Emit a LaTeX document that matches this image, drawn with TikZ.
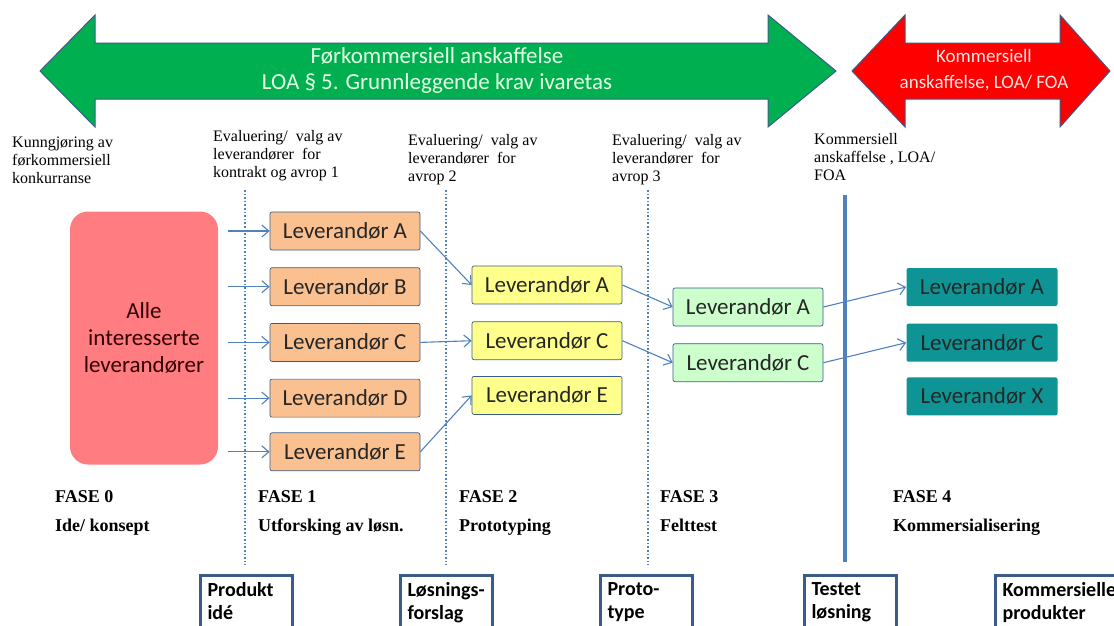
\documentclass[tikz,border=0pt]{standalone}
\usepackage{fontspec}
\setmainfont{Liberation Serif}
\setsansfont{Carlito}
\usetikzlibrary{arrows.meta,positioning}

\definecolor{arrowgreen}{HTML}{00B050}
\definecolor{arrowred}{HTML}{FF0000}
\definecolor{edgeblue}{HTML}{3B5C86}
\definecolor{linkblue}{HTML}{4F81BD}
\definecolor{pinkbox}{HTML}{FF7C80}
\definecolor{orangebox}{HTML}{FAC090}
\definecolor{yellowbox}{HTML}{FFFF8C}
\definecolor{mintbox}{HTML}{CCFFCC}
\definecolor{tealbox}{HTML}{0E9494}

\begin{document}
\begin{tikzpicture}[x=1pt,y=-1pt,
  lev/.style={draw=edgeblue,line width=0.7pt,rounded corners=2pt,minimum width=150pt,
    minimum height=38pt,inner sep=0pt,font=\sffamily\fontsize{23}{25}\selectfont,text=black!85},
  link/.style={draw=linkblue,line width=1.1pt,-{Straight Barb[length=7pt,width=12pt]}},
  phase/.style={anchor=base west,inner sep=0pt,font=\bfseries\fontsize{18}{20}\selectfont},
  note/.style={anchor=north west,inner sep=0pt,align=left,font=\fontsize{16}{18}\selectfont},
  outbox/.style={draw=edgeblue,line width=3pt,fill=white,anchor=north west,align=left,
    inner sep=7pt,text depth=40pt,font=\sffamily\bfseries\fontsize{20}{23}\selectfont},
  sep/.style={draw=linkblue,dotted,line width=1.6pt}]

  \useasboundingbox (0,0) rectangle (1114,625);
  \clip (0,0) rectangle (1114,625);

  % top arrows
  \draw[fill=arrowgreen,draw=edgeblue,line width=1pt] (40,71) -- (95,15) -- (95,43) -- (768,43)
    -- (768,15) -- (836,71) -- (768,127) -- (768,99) -- (95,99) -- (95,127) -- cycle;
  \node (pre) at (437,70) [align=center,text=green!10,font=\sffamily\fontsize{23}{26}\selectfont]
    {Førkommersiell anskaffelse\\LOA § 5. Grunnleggende krav ivaretas};
  \draw[fill=arrowred,draw=edgeblue,line width=1pt] (852,71) -- (905,15) -- (905,43) -- (1060,43)
    -- (1060,15) -- (1110,71) -- (1060,127) -- (1060,99) -- (905,99) -- (905,127) -- cycle;
  \node (com) at (984,70) [align=center,text=red!10,font=\sffamily\fontsize{19}{26}\selectfont]
    {Kommersiell\\anskaffelse, LOA/ FOA};

  % notes
  \node[note] (n0) at (12,137) {Kunngjøring av\\førkommersiell\\konkurranse};
  \node[note] (n1) at (213,130) {Evaluering/\ \ valg av\\leverandører\ \ for\\kontrakt og avrop 1};
  \node[note] (n2) at (408,134) {Evaluering/\ \ valg av\\leverandører\ \ for\\avrop 2};
  \node[note] (n3) at (612,134) {Evaluering/\ \ valg av\\leverandører\ \ for\\avrop 3};
  \node[note] (n4) at (814,133) {Kommersiell\\anskaffelse , LOA/\\FOA};

  % separators
  \draw[sep] (245,190) -- (245,565);
  \draw[sep] (446,190) -- (446,565);
  \draw[sep] (648,190) -- (648,565);
  \draw[draw=linkblue,line width=4pt] (845,195) -- (845,562);

  % all suppliers
  \node (all) at (144,338) [fill=pinkbox,rounded corners=18pt,minimum width=148pt,minimum height=253pt,
    align=center,text=black!80!red,font=\sffamily\fontsize{23}{27}\selectfont]
    {Alle\\interesserte\\leverandører};
  \coordinate (src) at ([xshift=10pt]all.east);

  % fase 1
  \node[lev,fill=orangebox] (oA) at (345,231) {Leverandør A};
  \node[lev,fill=orangebox] (oB) [below = 17pt of oA] {Leverandør B};
  \node[lev,fill=orangebox] (oC) [below = 17pt of oB] {Leverandør C};
  \node[lev,fill=orangebox] (oD) [below = 17pt of oC] {Leverandør D};
  \node[lev,fill=orangebox] (oE) [below = 15pt of oD] {Leverandør E};

  % fase 2
  \node[lev,fill=yellowbox] (yA) at (547,285) {Leverandør A};
  \node[lev,fill=yellowbox] (yC) [below = 17pt of yA] {Leverandør C};
  \node[lev,fill=yellowbox] (yE) [below = 16pt of yC] {Leverandør E};

  % fase 3
  \node[lev,fill=mintbox] (gA) at (748,307) {Leverandør A};
  \node[lev,fill=mintbox] (gC) [below = 17pt of gA] {Leverandør C};

  % fase 4
  \node[lev,draw=none,fill=tealbox,minimum width=151pt] (tA) at (982,287) {Leverandør A};
  \node[lev,draw=none,fill=tealbox,minimum width=151pt] (tC) [below = 17pt of tA] {Leverandør C};
  \node[lev,draw=none,fill=tealbox,minimum width=151pt] (tX) [below = 15pt of tC] {Leverandør X};

  \foreach \n in {oA,oB,oC,oD,oE}
    \draw[link] (src |- \n.west) -- (\n.west);
  \draw[link] (oA.east) -- (yA.west);
  \draw[link] (oC.east) -- (yC.west);
  \draw[link] (oE.east) -- (yE.west);
  \draw[link] (yA.east) -- (gA.west);
  \draw[link] (yC.east) -- (gC.west);
  \draw[link] (gA.east) -- (tA.west);
  \draw[link] (gC.east) -- (tC.west);

  % phases
  \node[phase] (f0) at (55,502) {FASE 0};
  \node[phase] (f0t) at (55,531) {Ide/ konsept};
  \node[phase] (f1) at (258,502) {FASE 1};
  \node[phase] (f1t) at (258,531) {Utforsking av løsn.};
  \node[phase] (f2) at (459,502) {FASE 2};
  \node[phase] (f2t) at (459,531) {Prototyping};
  \node[phase] (f3) at (660,502) {FASE 3};
  \node[phase] (f3t) at (660,531) {Felttest};
  \node[phase] (f4) at (893,502) {FASE 4};
  \node[phase] (f4t) at (893,531) {Kommersialisering};

  % results
  \node[outbox,text width=78pt] (r0) at (199,574) {Produkt\\idé};
  \node[outbox,text width=78pt] (r1) at (399,574) {Løsnings-\\forslag};
  \node[outbox,text width=78pt] (r2) at (599,574) {Proto-\\type};
  \node[outbox,text width=78pt] (r3) at (803,574) {Testet\\løsning};
  \node[outbox,text width=130pt] (r4) at (994,574) {Kommersielle\\produkter};
\end{tikzpicture}
\end{document}
